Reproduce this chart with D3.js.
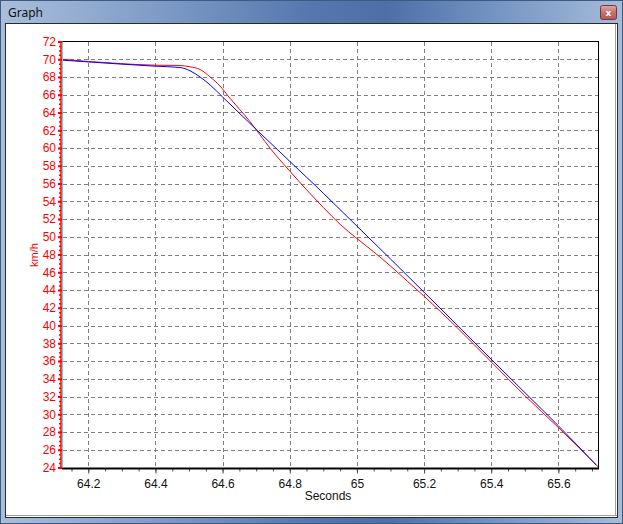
<!DOCTYPE html>
<html><head><meta charset="utf-8">
<script src="https://cdn.jsdelivr.net/npm/d3@7"></script>
<style>html,body{margin:0;padding:0;background:#fff;overflow:hidden}svg{display:block}</style>
</head><body>
<svg id="c" width="623" height="524"></svg>
<script>
// ---- data ----
const redTime  = [64.122,64.2,64.3,64.4,64.47,64.503,64.533,64.563,64.592,64.622,64.652,64.682,64.712,64.741,64.8,64.85,64.9,64.95,65.0,65.05,65.1,65.15,65.2,65.3,65.4,65.5,65.6,65.718];
const redSpeed = [70.0,69.75,69.5,69.33,69.3,69.15,68.85,68.0,67.0,65.6,64.3,62.95,61.45,60.0,57.4,55.3,53.3,51.4,49.8,48.3,46.7,45.0,43.3,39.7,35.9,32.1,28.5,24.1];
const blueTime  = [64.122,64.2,64.3,64.4,64.473,64.503,64.533,64.563,64.6,64.7,64.8,64.9,65.0,65.1,65.2,65.3,65.4,65.5,65.6,65.712];
const blueSpeed = [69.9,69.7,69.45,69.22,69.07,68.7,68.0,67.1,65.75,62.1,58.5,54.9,51.2,47.5,43.75,40.0,36.2,32.45,28.7,24.3];
const xTickLabels = ["64.2","64.4","64.6","64.8","65","65.2","65.4","65.6"];
const yTickLabels = ["24","26","28","30","32","34","36","38","40","42","44","46","48","50","52","54","56","58","60","62","64","66","68","70","72"];
const xDomain = [64.1217, 65.718];
const yDomain = [24, 72];

const svg = d3.select("#c");
const defs = svg.append("defs");
const g1 = defs.append("linearGradient").attr("id","frame").attr("x1",0).attr("x2",1).attr("y1",0).attr("y2",0);
[[0,"#a9bedb"],[0.25,"#7f9cc7"],[0.5,"#5577ad"],[0.62,"#4d6fa6"],[0.8,"#7595c3"],[1,"#a6bcd9"]].forEach(s=>g1.append("stop").attr("offset",s[0]).attr("stop-color",s[1]));
const g2 = defs.append("linearGradient").attr("id","btn").attr("x1",0).attr("x2",0).attr("y1",0).attr("y2",1);
[[0,"#e0a8a8"],[0.5,"#c86e6e"],[1,"#b25a5a"]].forEach(s=>g2.append("stop").attr("offset",s[0]).attr("stop-color",s[1]));

// window frame
svg.append("rect").attr("x",0).attr("y",0).attr("width",623).attr("height",524).attr("fill","url(#frame)");
svg.append("rect").attr("x",0.5).attr("y",0.5).attr("width",622).attr("height",523).attr("fill","none").attr("stroke","#3e5a80");
svg.append("text").attr("x",8).attr("y",17).attr("font-family","'Noto Sans', 'DejaVu Sans', sans-serif").attr("font-size",12).attr("fill","#111").text("Graph");
svg.append("rect").attr("x",600.5).attr("y",5.5).attr("width",16).attr("height",14).attr("rx",2).attr("fill","url(#btn)").attr("stroke","#6a3c3c");
svg.append("text").attr("x",608.5).attr("y",16).attr("text-anchor","middle").attr("font-family","'DejaVu Sans', sans-serif").attr("font-weight","bold").attr("font-size",9).attr("fill","#fff").text("x");
// client area
svg.append("rect").attr("x",5.5).attr("y",23.5).attr("width",612).attr("height",494).attr("fill","#fff").attr("stroke","#2a2a2a");
svg.append("line").attr("x1",6).attr("x2",617).attr("y1",515.5).attr("y2",515.5).attr("stroke","#a0a0a0");
svg.append("line").attr("x1",615.5).attr("x2",615.5).attr("y1",24).attr("y2",516).attr("stroke","#a0a0a0");

const L=62, R=598, T=41.5, B=467.5;
const x = d3.scaleLinear().domain(xDomain).range([L,R]);
const y = d3.scaleLinear().domain(yDomain).range([B,T]);
const xVals = xTickLabels.map(Number);
const yVals = yTickLabels.map(Number);
const font = "'Liberation Sans', Arial, sans-serif";

// grid
const grid = svg.append("g").attr("stroke","#808080").attr("stroke-dasharray","4,3").attr("shape-rendering","crispEdges");
yVals.filter(v=>v>24&&v<72).forEach(v=>{
  grid.append("line").attr("x1",L+1).attr("x2",R).attr("y1",Math.round(y(v))+0.5).attr("y2",Math.round(y(v))+0.5);
});
xVals.forEach(v=>{
  grid.append("line").attr("x1",Math.round(x(v))+0.5).attr("x2",Math.round(x(v))+0.5).attr("y1",T).attr("y2",B);
});

// plot border (top/right)
svg.append("path").attr("d",`M${L},${T}H${R}V${B}`).attr("fill","none").attr("stroke","#000").attr("shape-rendering","crispEdges");

// series
const line = d3.line().x(d=>x(d[0])).y(d=>y(d[1])).curve(d3.curveMonotoneX);
svg.append("path").datum(redTime.map((t,i)=>[t,redSpeed[i]])).attr("d",line).attr("fill","none").attr("stroke","#ff0000").attr("stroke-width",1);
svg.append("path").datum(blueTime.map((t,i)=>[t,blueSpeed[i]])).attr("d",line).attr("fill","none").attr("stroke","#0000ff").attr("stroke-width",1);

// x axis
const xAxis = d3.axisBottom(x).tickValues(xVals).tickFormat((d,i)=>xTickLabels[i]).tickSize(5).tickPadding(6);
const xa = svg.append("g").attr("transform",`translate(0,${B+1})`).call(xAxis);
xa.select(".domain").remove();
xa.selectAll("line").attr("stroke","#444");
xa.selectAll("text").attr("font-family",font).attr("font-size",12).attr("fill","#111");
const minorX = d3.range(64.15, 65.72, 0.05).filter(v=>v>=xDomain[0]&&v<=xDomain[1]);
svg.append("g").attr("transform",`translate(0,${B+1})`).call(d3.axisBottom(x).tickValues(minorX).tickSize(3).tickFormat("")).call(g=>g.select(".domain").remove()).selectAll("line").attr("stroke","#555");
svg.append("line").attr("x1",L).attr("x2",R+1).attr("y1",B+1).attr("y2",B+1).attr("stroke","#000").attr("stroke-width",2);

// y axis
svg.append("line").attr("x1",62.5).attr("x2",62.5).attr("y1",T).attr("y2",B).attr("stroke","#40e0e0");
svg.append("line").attr("x1",61).attr("x2",61).attr("y1",T).attr("y2",B+1).attr("stroke","#ff0000").attr("stroke-width",1.5);
const minorY = d3.range(24, 72.01, 0.5);
svg.append("g").attr("transform",`translate(61,0)`).call(d3.axisLeft(y).tickValues(minorY).tickSize(2).tickFormat("")).call(g=>g.select(".domain").remove()).selectAll("line").attr("stroke","#ff0000").attr("stroke-width",1.5);
const ya = svg.append("g").attr("transform",`translate(62,0)`).call(d3.axisLeft(y).tickValues(yVals).tickFormat((d,i)=>yTickLabels[i]).tickSize(4).tickPadding(2));
ya.select(".domain").remove();
ya.selectAll("line").attr("stroke","#ff0000").attr("stroke-width",2);
ya.selectAll("text").attr("font-family",font).attr("font-size",12).attr("fill","#ff0000");

// axis titles
svg.append("text").attr("transform","translate(38,255) rotate(-90)").attr("text-anchor","middle").attr("font-family",font).attr("font-size",11).attr("fill","#ff0000").text("km/h");
svg.append("text").attr("x",328).attr("y",500).attr("text-anchor","middle").attr("font-family",font).attr("font-size",12).attr("fill","#111").text("Seconds");
</script>
</body></html>
